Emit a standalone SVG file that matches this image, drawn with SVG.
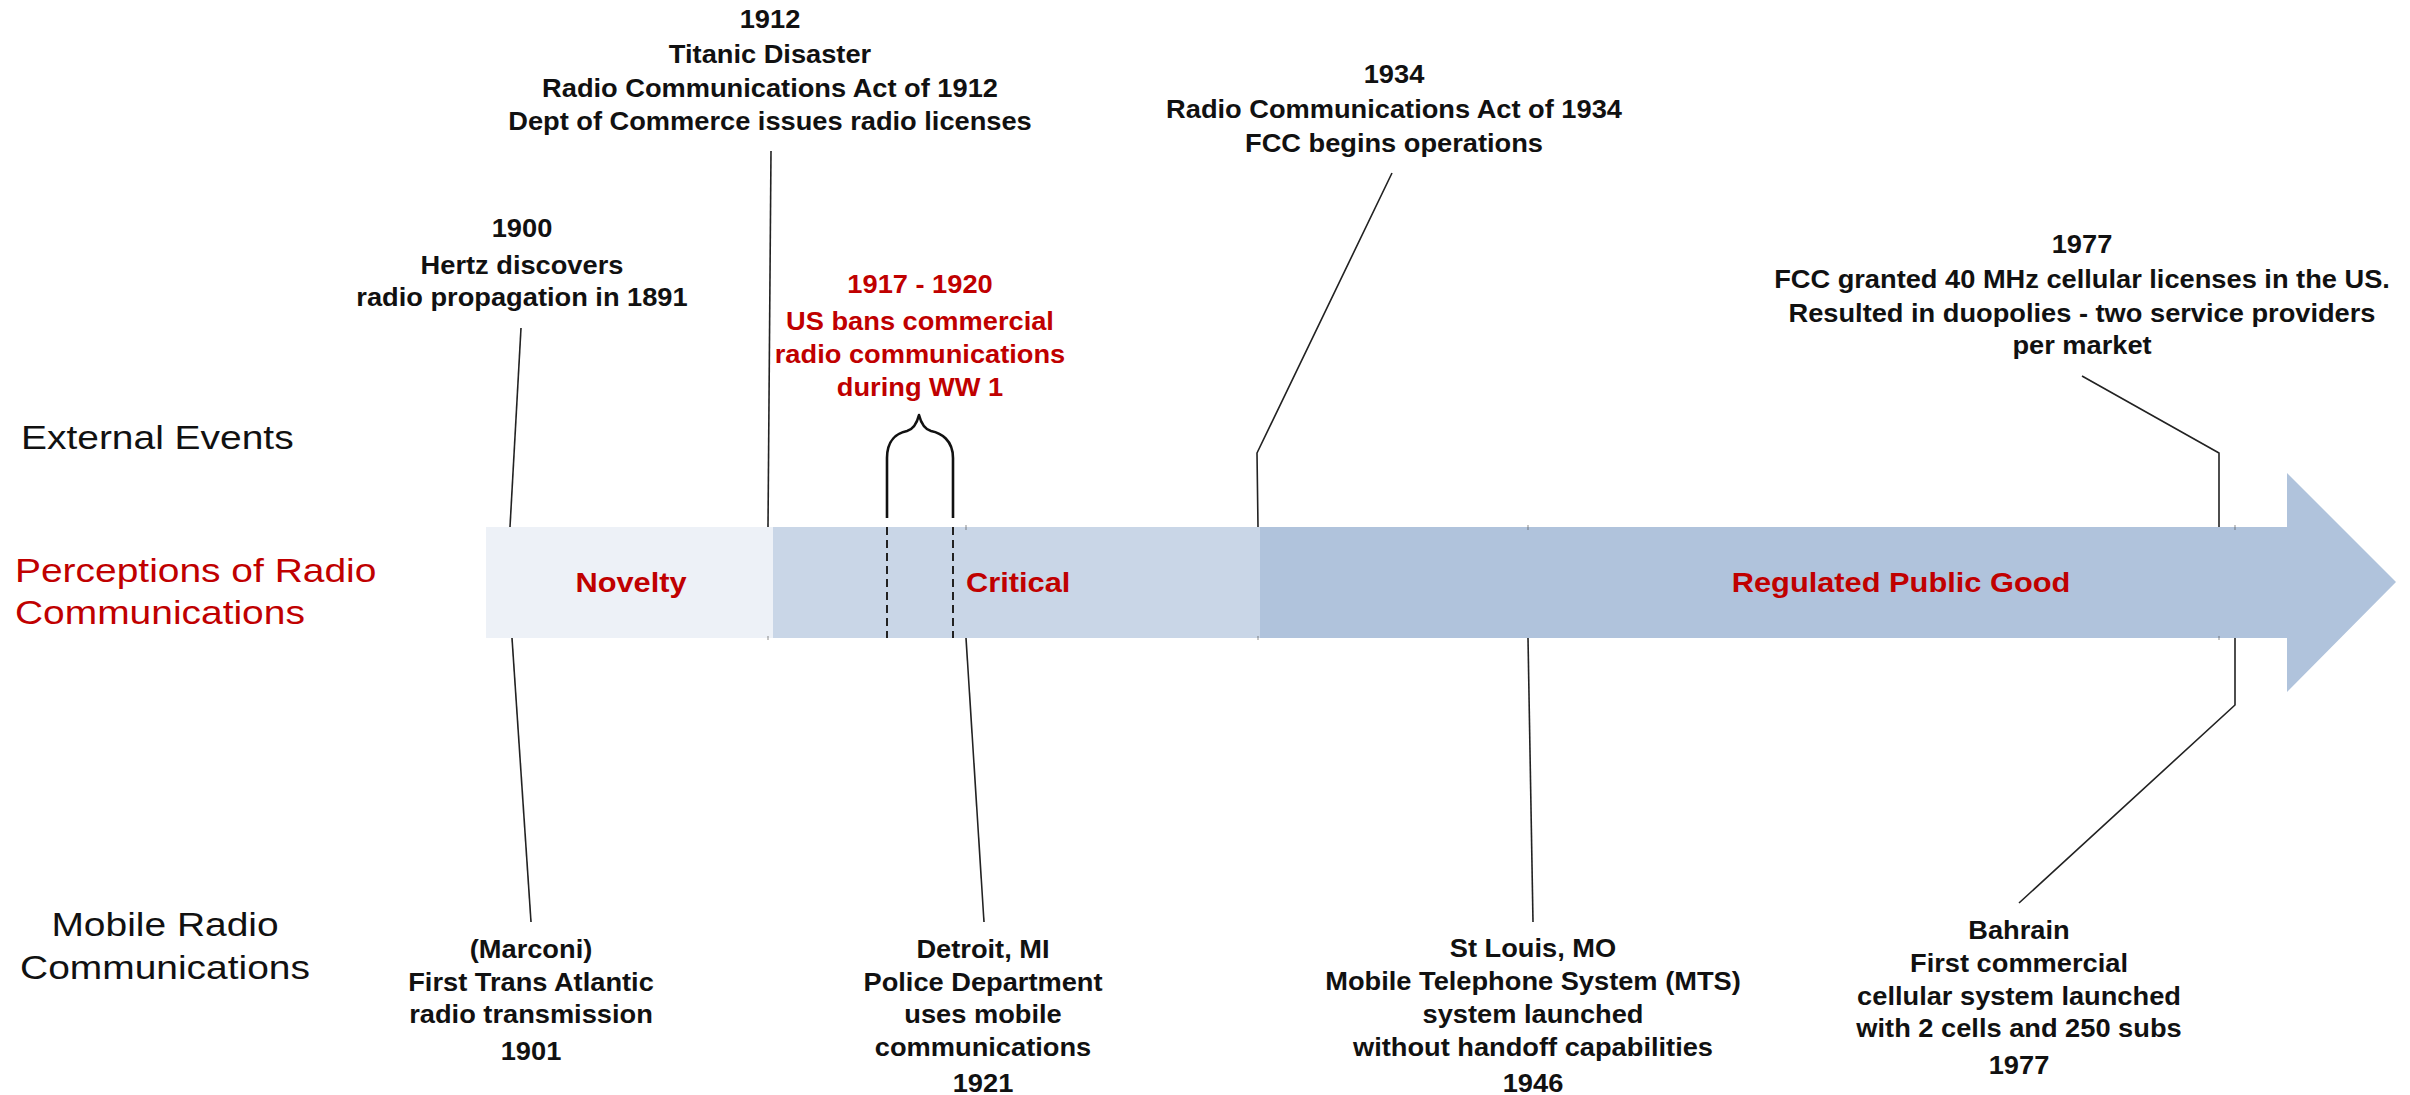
<svg xmlns="http://www.w3.org/2000/svg" width="2410" height="1095" viewBox="0 0 2410 1095">
  <style>
    .ev { font-family: "Liberation Sans", Arial, sans-serif; font-weight: bold; font-size: 25px; fill: #111; text-anchor: middle; }
    .ev.red { fill: #C00000; }
    .side { font-family: "Liberation Sans", Arial, sans-serif; font-size: 33px; fill: #111; }
    .side.red { fill: #C00000; }
    .phase { font-family: "Liberation Sans", Arial, sans-serif; font-weight: bold; font-size: 28.5px; fill: #C00000; }
    .conn { fill: none; stroke: #222; stroke-width: 1.6; stroke-linejoin: round; }
    .tick { stroke: #444; stroke-width: 1.2; opacity: 0.5; }
    .brace { fill: none; stroke: #111; stroke-width: 2.6; stroke-linejoin: round; }
    .dash { fill: none; stroke: #222; stroke-width: 2; stroke-dasharray: 8 5; }
  </style>

  <rect width="2410" height="1095" fill="#ffffff"/>

  <!-- connectors: leader lines from event labels to the timeline bar -->
  <g id="connectors">
    <path class="conn" d="M521,328 L510,527"/>
    <path class="conn" d="M512,638 L531,922"/>
    <path class="conn" d="M771,151 L768,527"/>
    <path class="conn" d="M966,638 L984,922"/>
    <path class="conn" d="M1392,173 L1257,453 L1258,527"/>
    <path class="conn" d="M1528,638 L1533,922"/>
    <path class="conn" d="M2082,376 L2219,453 L2219,527"/>
    <path class="conn" d="M2235,638 L2235,705 L2019,903"/>
    <!-- WW1 span brace -->
    <path class="brace" d="M887,518 V458 C887,440 897,433 907,431 C914,429 917,423 919,415 C921,423 924,429 931,431 C941,433 953,440 953,458 V518"/>
  </g>

  <!-- timeline bar -->
  <g id="phase-novelty">
    <rect x="486" y="527" width="287" height="111" fill="#EDF1F7"/>
    <g transform="translate(631 0) scale(1.08 1)"><text class="phase" x="0" y="592" text-anchor="middle">Novelty</text></g>
  </g>
  <g id="phase-critical">
    <rect x="773" y="527" width="487" height="111" fill="#C9D6E7"/>
    <g transform="translate(966 0) scale(1.08 1)"><text class="phase" x="0" y="592">Critical</text></g>
  </g>
  <g id="phase-regulated">
    <polygon points="1260,527 2287,527 2287,473 2396,582 2287,692 2287,638 1260,638" fill="#B0C3DC"/>
    <g transform="translate(1901 0) scale(1.08 1)"><text class="phase" x="0" y="592" text-anchor="middle">Regulated Public Good</text></g>
  </g>

  <!-- faint stubs where leader lines pass behind the bar edges -->
  <g id="edge-stubs">
    <line class="tick" x1="768" y1="636" x2="768" y2="640"/>
    <line class="tick" x1="966" y1="525" x2="966" y2="530"/>
    <line class="tick" x1="1258" y1="636" x2="1258" y2="640"/>
    <line class="tick" x1="1528" y1="525" x2="1528" y2="530"/>
    <line class="tick" x1="2219" y1="636" x2="2219" y2="640"/>
    <line class="tick" x1="2235" y1="525" x2="2235" y2="530"/>
  </g>

  <!-- WW1 dashed markers across the bar -->
  <g id="ww1-markers">
    <line class="dash" x1="887" y1="527" x2="887" y2="638"/>
    <line class="dash" x1="953" y1="527" x2="953" y2="638"/>
  </g>

  <!-- row labels -->
  <g id="label-external" transform="translate(21 0) scale(1.18 1)">
    <text class="side" x="0" y="449">External Events</text>
  </g>
  <g id="label-perceptions" transform="translate(15 0) scale(1.18 1)">
    <text class="side red" x="0" y="582">Perceptions of Radio</text>
    <text class="side red" x="0" y="624">Communications</text>
  </g>
  <g id="label-mobile" transform="translate(165 0) scale(1.18 1)">
    <text class="side" x="0" y="936" text-anchor="middle">Mobile Radio</text>
    <text class="side" x="0" y="979" text-anchor="middle">Communications</text>
  </g>

  <!-- external events -->
  <g id="ev-1900" transform="translate(522 0) scale(1.09 1)">
    <text class="ev" x="0" y="237">1900</text>
    <text class="ev" x="0" y="274">Hertz discovers</text>
    <text class="ev" x="0" y="306">radio propagation in 1891</text>
  </g>
  <g id="ev-1912" transform="translate(770 0) scale(1.09 1)">
    <text class="ev" x="0" y="28">1912</text>
    <text class="ev" x="0" y="63">Titanic Disaster</text>
    <text class="ev" x="0" y="97">Radio Communications Act of 1912</text>
    <text class="ev" x="0" y="130">Dept of Commerce issues radio licenses</text>
  </g>
  <g id="ev-1917" transform="translate(920 0) scale(1.09 1)">
    <text class="ev red" x="0" y="293">1917 - 1920</text>
    <text class="ev red" x="0" y="330">US bans commercial</text>
    <text class="ev red" x="0" y="363">radio communications</text>
    <text class="ev red" x="0" y="396">during WW 1</text>
  </g>
  <g id="ev-1934" transform="translate(1394 0) scale(1.09 1)">
    <text class="ev" x="0" y="83">1934</text>
    <text class="ev" x="0" y="118">Radio Communications Act of 1934</text>
    <text class="ev" x="0" y="152">FCC begins operations</text>
  </g>
  <g id="ev-1977" transform="translate(2082 0) scale(1.09 1)">
    <text class="ev" x="0" y="253">1977</text>
    <text class="ev" x="0" y="288">FCC granted 40 MHz cellular licenses in the US.</text>
    <text class="ev" x="0" y="322">Resulted in duopolies - two service providers</text>
    <text class="ev" x="0" y="354">per market</text>
  </g>

  <!-- mobile radio milestones -->
  <g id="mob-1901" transform="translate(531 0) scale(1.09 1)">
    <text class="ev" x="0" y="958">(Marconi)</text>
    <text class="ev" x="0" y="991">First Trans Atlantic</text>
    <text class="ev" x="0" y="1023">radio transmission</text>
    <text class="ev" x="0" y="1060">1901</text>
  </g>
  <g id="mob-1921" transform="translate(983 0) scale(1.09 1)">
    <text class="ev" x="0" y="958">Detroit, MI</text>
    <text class="ev" x="0" y="991">Police Department</text>
    <text class="ev" x="0" y="1023">uses mobile</text>
    <text class="ev" x="0" y="1056">communications</text>
    <text class="ev" x="0" y="1092">1921</text>
  </g>
  <g id="mob-1946" transform="translate(1533 0) scale(1.09 1)">
    <text class="ev" x="0" y="957">St Louis, MO</text>
    <text class="ev" x="0" y="990">Mobile Telephone System (MTS)</text>
    <text class="ev" x="0" y="1023">system launched</text>
    <text class="ev" x="0" y="1056">without handoff capabilities</text>
    <text class="ev" x="0" y="1092">1946</text>
  </g>
  <g id="mob-1977" transform="translate(2019 0) scale(1.09 1)">
    <text class="ev" x="0" y="939">Bahrain</text>
    <text class="ev" x="0" y="972">First commercial</text>
    <text class="ev" x="0" y="1005">cellular system launched</text>
    <text class="ev" x="0" y="1037">with 2 cells and 250 subs</text>
    <text class="ev" x="0" y="1074">1977</text>
  </g>
</svg>
